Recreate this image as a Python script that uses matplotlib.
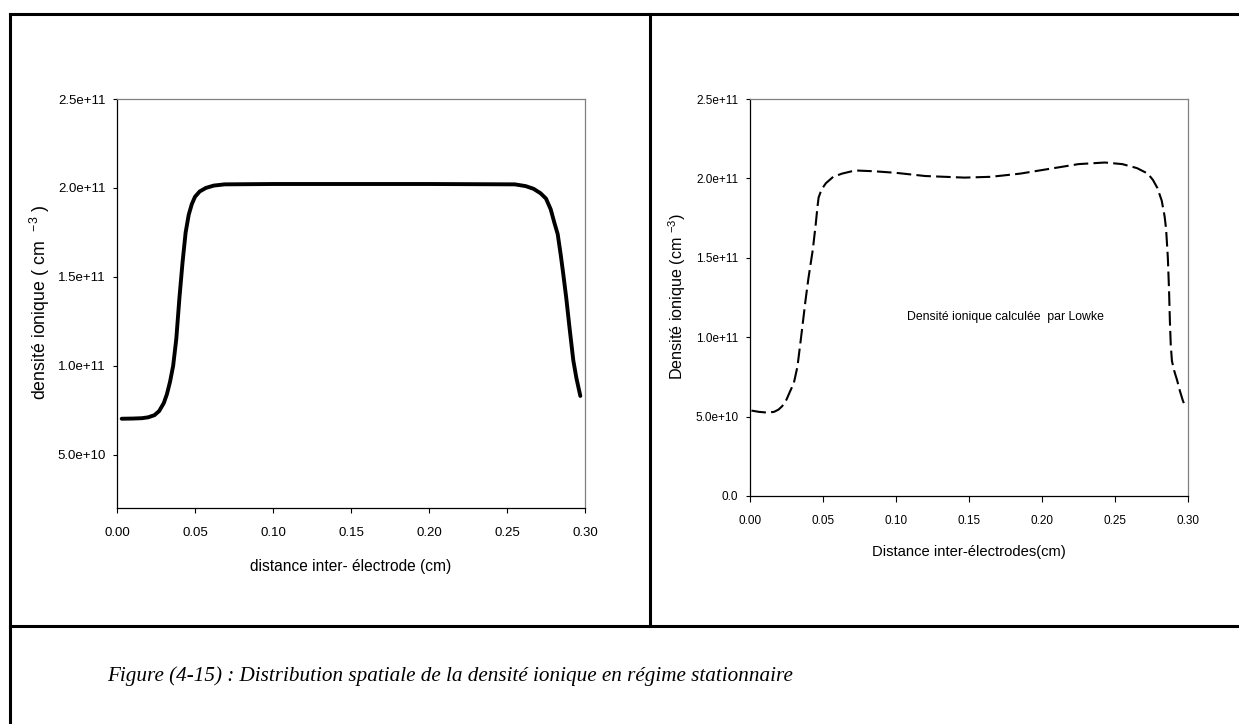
import matplotlib
matplotlib.use("Agg")
import matplotlib.pyplot as plt
from matplotlib.lines import Line2D
from matplotlib.ticker import FixedLocator, FixedFormatter

# ---- data ----------------------------------------------------------------
# simulated ion density (left panel), x in cm, density in units of 1e11 cm^-3
sim_x = [0.003, 0.010, 0.016, 0.020, 0.024, 0.027, 0.030, 0.032, 0.034, 0.036,
         0.038, 0.040, 0.042, 0.044, 0.046, 0.048, 0.050, 0.053, 0.057, 0.062,
         0.069, 0.100, 0.150, 0.200, 0.255, 0.262, 0.267, 0.2715, 0.275, 0.278,
         0.2805, 0.2825, 0.2845, 0.286, 0.288, 0.290, 0.2925, 0.2945, 0.297]
sim_n = [0.702, 0.703, 0.705, 0.710, 0.722, 0.745, 0.790, 0.840, 0.910, 1.00,
         1.15, 1.38, 1.58, 1.75, 1.85, 1.91, 1.95, 1.98, 2.00, 2.013,
         2.02, 2.022, 2.022, 2.022, 2.02, 2.01, 1.995, 1.97, 1.94, 1.88,
         1.80, 1.74, 1.62, 1.52, 1.38, 1.22, 1.03, 0.93, 0.83]

# ion density computed by Lowke (right panel)
lowke_x = [0.001, 0.006, 0.012, 0.0165, 0.0195, 0.022, 0.025, 0.0275, 0.030,
           0.0325, 0.035, 0.038, 0.040, 0.043, 0.045, 0.0462, 0.047, 0.049,
           0.052, 0.057, 0.063, 0.072, 0.085, 0.100, 0.120, 0.147, 0.165,
           0.185, 0.205, 0.225, 0.243, 0.255, 0.265, 0.2725, 0.276, 0.279,
           0.282, 0.284, 0.285, 0.2862, 0.287, 0.2876, 0.2882, 0.289, 0.2905,
           0.2925, 0.2945, 0.2965, 0.2976]
lowke_n = [0.538, 0.530, 0.525, 0.530, 0.544, 0.565, 0.607, 0.660, 0.710,
           0.815, 1.00, 1.23, 1.37, 1.55, 1.71, 1.82, 1.88, 1.93,
           1.97, 2.01, 2.03, 2.05, 2.045, 2.035, 2.015, 2.005, 2.01,
           2.03, 2.06, 2.09, 2.10, 2.09, 2.065, 2.03, 1.99, 1.94,
           1.86, 1.76, 1.68, 1.50, 1.30, 1.10, 0.95, 0.85, 0.79,
           0.73, 0.66, 0.60, 0.575]

SCALE = 1e11

x_ticks = [0.00, 0.05, 0.10, 0.15, 0.20, 0.25, 0.30]
x_tick_labels = ["0.00", "0.05", "0.10", "0.15", "0.20", "0.25", "0.30"]

left_y_ticks = [5e10, 1e11, 1.5e11, 2e11, 2.5e11]
left_y_labels = ["5.0e+10", "1.0e+11", "1.5e+11", "2.0e+11", "2.5e+11"]

right_y_ticks = [0, 5e10, 1e11, 1.5e11, 2e11, 2.5e11]
right_y_labels = ["0.0", "5.0e+10", "1.0e+11", "1.5e+11", "2.0e+11", "2.5e+11"]

# ---- styling -------------------------------------------------------------
SANS = ["Liberation Sans", "DejaVu Sans"]
plt.rcParams["font.family"] = SANS
plt.rcParams["mathtext.fontset"] = "custom"
plt.rcParams["mathtext.rm"] = "Liberation Sans"
plt.rcParams["mathtext.it"] = "Liberation Sans"

W, H = 1239, 724
fig = plt.figure(figsize=(W / 100, H / 100), dpi=100)
fig.patch.set_facecolor("white")


def px_axes(x0, y0, x1, y1):
    """Axes from pixel box (top-left origin)."""
    return fig.add_axes([x0 / W, (H - y1) / H, (x1 - x0) / W, (y1 - y0) / H])


def style_axes(ax, ylim, yticks, ylabels, tick_fs, xpad, ypad, xtick_len, ytick_len):
    ax.set_xlim(0.0, 0.30)
    ax.set_ylim(*ylim)
    ax.xaxis.set_major_locator(FixedLocator(x_ticks))
    ax.xaxis.set_major_formatter(FixedFormatter(x_tick_labels))
    ax.yaxis.set_major_locator(FixedLocator(yticks))
    ax.yaxis.set_major_formatter(FixedFormatter(ylabels))
    ax.tick_params(axis="x", direction="out", length=xtick_len, width=0.8,
                   pad=xpad, labelsize=tick_fs, color="black")
    ax.tick_params(axis="y", direction="out", length=ytick_len, width=0.8,
                   pad=ypad, labelsize=tick_fs, color="black")
    for side in ("left", "bottom"):
        ax.spines[side].set_color("black")
        ax.spines[side].set_linewidth(0.9)
    for side in ("top", "right"):
        ax.spines[side].set_color("#808080")
        ax.spines[side].set_linewidth(0.9)


# ---- left panel: simulation --------------------------------------------
ax1 = px_axes(117, 99, 585, 508)
ax1.plot(sim_x, [v * SCALE for v in sim_n], color="black", lw=2.8,
         solid_joinstyle="round", solid_capstyle="round")
style_axes(ax1, (2e10, 2.5e11), left_y_ticks, left_y_labels, 9.5, 10, 5.4, 3.6, 2.6)
ax1.set_xlabel("distance inter- électrode (cm)", fontsize=11.2)
ax1.xaxis.label.set_va("center")
ax1.xaxis.set_label_coords(0.5, (508 - 567) / 409)
ax1.set_ylabel("densité ionique ( cm  $^{-3}$ )", fontsize=12.8)
ax1.yaxis.label.set_va("center")
ax1.yaxis.set_label_coords((40 - 117) / 468, (508 - 302) / 409)

# ---- right panel: Lowke ------------------------------------------------
ax2 = px_axes(750, 99, 1188, 496)
ax2.plot(lowke_x, [v * SCALE for v in lowke_n], color="black", lw=1.5,
         dashes=(7, 2.5), dash_capstyle="butt")
style_axes(ax2, (0, 2.5e11), right_y_ticks, right_y_labels, 8.5, 9.3, 5.5, 4.1, 2.9)
ax2.set_xlabel("Distance inter-électrodes(cm)", fontsize=10.6)
ax2.xaxis.label.set_va("center")
ax2.xaxis.set_label_coords(0.5, (496 - 552) / 397)
ax2.set_ylabel("Densité ionique (cm $^{-3}$)", fontsize=11.6)
ax2.yaxis.label.set_va("center")
ax2.yaxis.set_label_coords((677 - 750) / 438, (496 - 297) / 397)
ax2.text(0.175, 1.13e11, "Densité ionique calculée  par Lowke",
         fontsize=8.8, ha="center", va="center")

# ---- table frame -------------------------------------------------------
def px_line(x0, y0, x1, y1, lw=2.2):
    fig.add_artist(Line2D([x0 / W, x1 / W], [1 - y0 / H, 1 - y1 / H],
                          transform=fig.transFigure, color="black",
                          lw=lw, solid_capstyle="projecting"))


px_line(9.5, 13.5, 1239, 13.5)        # top
px_line(9.5, 13.5, 9.5, 724)          # left
px_line(649.5, 13.5, 649.5, 625.5)    # middle divider
px_line(9.5, 625.5, 1239, 625.5)      # separator above caption

# ---- caption -----------------------------------------------------------
fig.text(450 / W, 1 - 676 / H,
         "Figure (4-15) : Distribution spatiale de la densité ionique en régime stationnaire",
         family=["Liberation Serif", "DejaVu Serif"], style="italic",
         fontsize=15.2, ha="center", va="center")

fig.savefig("out.png", dpi=100, facecolor="white")
